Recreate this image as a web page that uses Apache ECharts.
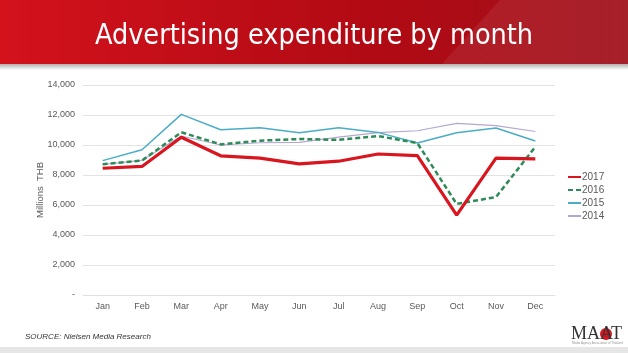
<!DOCTYPE html>
<html><head><meta charset="utf-8">
<script src="https://cdn.jsdelivr.net/npm/echarts@6/dist/echarts.min.js"></script>
<style>html,body{margin:0;padding:0;background:#fff}#c{width:628px;height:353px}</style>
</head><body><div id="c"></div>
<script>
const months = ['Jan','Feb','Mar','Apr','May','Jun','Jul','Aug','Sep','Oct','Nov','Dec'];
const s2017 = [8450, 8570, 10520, 9280, 9130, 8740, 8920, 9400, 9290, 5330, 9120, 9080];
const s2016 = [8720, 8960, 10850, 10040, 10290, 10400, 10340, 10600, 10130, 6070, 6530, 9880];
const s2015 = [8960, 9680, 12040, 11020, 11150, 10820, 11150, 10840, 10130, 10820, 11130, 10270];
const s2014 = [8700, 8980, 10600, 10000, 10150, 10180, 10520, 10820, 10950, 11440, 11290, 10900];
const yTicks = [0, 2000, 4000, 6000, 8000, 10000, 12000, 14000];

const chart = echarts.init(document.getElementById('c'));
const lab = v => v === 0 ? '-' : v.toLocaleString('en-US');
chart.setOption({
  animation: false,
  graphic: [
    {type:'rect', z:-10, shape:{x:0,y:0,width:628,height:66}, style:{fill:new echarts.graphic.LinearGradient(0,0,1,0,[{offset:0,color:'#d3121c'},{offset:0.6,color:'#b10a14'},{offset:1,color:'#a0101a'}])}},
    {type:'polygon', z:-9, shape:{points:[[500,0],[628,0],[628,66],[440,66]]}, style:{fill:'rgba(255,255,255,0.07)'}},
    {type:'rect', z:-9, shape:{x:0,y:64,width:628,height:6}, style:{fill:new echarts.graphic.LinearGradient(0,0,0,1,[{offset:0,color:'#b0b0b0'},{offset:1,color:'#ffffff'}])}},
    {type:'text', left:'center', top:22, style:{text:'Advertising expenditure by month', fill:'#ffffff', font:'28.5px "DejaVu Sans Condensed", sans-serif'}},
    {type:'text', left:25, top:333, style:{text:'SOURCE: Nielsen Media Research', fill:'#333', font:'italic 8px "Liberation Sans", sans-serif'}},
    {type:'circle', z:-5, shape:{cx:606, cy:334, r:6}, style:{fill:'#d01820'}},
    {type:'text', left:571, top:325, style:{text:'MAAT', fill:'#333', font:'18px "Liberation Serif", serif'}},
    {type:'text', left:572, top:342, style:{text:'Media Agency Association of Thailand', fill:'#999', font:'3px sans-serif'}},
    {type:'rect', z:-9, shape:{x:0,y:347,width:628,height:6}, style:{fill:'#e6e6e6'}}
  ],
  grid: {left:83, right:73, top:85, bottom:58, containLabel:false},
  legend: {
    orient:'vertical', left:562, top:167, itemGap:3, itemWidth:13, itemHeight:8,
    data:['2017','2016','2015','2014'],
    itemStyle:{opacity:0},
    textStyle:{fontSize:10, color:'#595959', fontFamily:'Liberation Sans', padding:[0,0,0,-4]}
  },
  xAxis: {
    type:'category', data:months, boundaryGap:true,
    axisLine:{show:true, lineStyle:{color:'#e0e0e0'}}, axisTick:{show:false},
    axisLabel:{color:'#595959', fontSize:9, fontFamily:'Liberation Sans', margin:7}
  },
  yAxis: {
    type:'value', min:0, max:14000, interval:2000,
    name:'Millions  THB', nameLocation:'middle', nameGap:38, nameRotate:90, nameMoveOverlap:false,
    nameTextStyle:{color:'#595959', fontSize:9.5, fontFamily:'Liberation Sans'},
    axisLine:{show:false}, axisTick:{show:false},
    splitLine:{lineStyle:{color:'#e3e3e3'}},
    axisLabel:{color:'#595959', fontSize:9, fontFamily:'Liberation Sans', margin:8, formatter: v => yTicks.includes(v) ? lab(v) : ''}
  },
  series: [
    {name:'2014', type:'line', data:s2014, symbol:'none', z:1, lineStyle:{color:'#b4a7d0', width:1.2}, itemStyle:{color:'#b4a7d0'}},
    {name:'2015', type:'line', data:s2015, symbol:'none', z:2, lineStyle:{color:'#4bacc6', width:1.5}, itemStyle:{color:'#4bacc6'}},
    {name:'2016', type:'line', data:s2016, symbol:'none', z:3, lineStyle:{color:'#2e8b57', width:2.5, type:[5,3]}, itemStyle:{color:'#2e8b57'}},
    {name:'2017', type:'line', data:s2017, symbol:'none', z:4, lineStyle:{color:'#d9161f', width:3.2}, itemStyle:{color:'#d9161f'}}
  ]
});
</script></body></html>
